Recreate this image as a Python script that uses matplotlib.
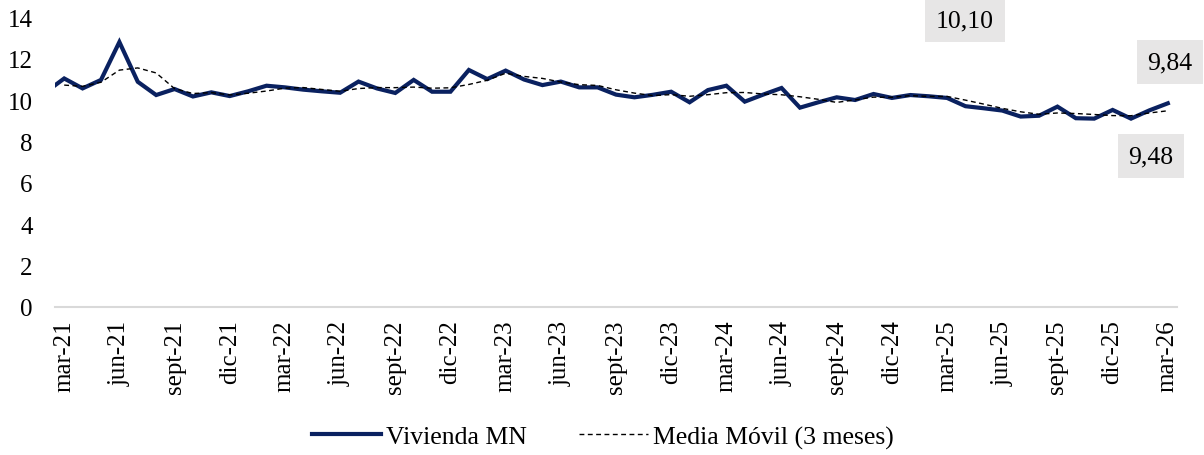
import matplotlib
matplotlib.use("Agg")
import matplotlib.pyplot as plt
import numpy as np
import pandas as pd

# Monthly values (jan-21 .. mar-26); first two months only feed the moving average
months = ["ene-21", "feb-21",
          "mar-21", "abr-21", "may-21", "jun-21", "jul-21", "ago-21", "sept-21", "oct-21", "nov-21", "dic-21",
          "ene-22", "feb-22", "mar-22", "abr-22", "may-22", "jun-22", "jul-22", "ago-22", "sept-22", "oct-22", "nov-22", "dic-22",
          "ene-23", "feb-23", "mar-23", "abr-23", "may-23", "jun-23", "jul-23", "ago-23", "sept-23", "oct-23", "nov-23", "dic-23",
          "ene-24", "feb-24", "mar-24", "abr-24", "may-24", "jun-24", "jul-24", "ago-24", "sept-24", "oct-24", "nov-24", "dic-24",
          "ene-25", "feb-25", "mar-25", "abr-25", "may-25", "jun-25", "jul-25", "ago-25", "sept-25", "oct-25", "nov-25", "dic-25",
          "ene-26", "feb-26", "mar-26"]
vivienda = [10.74, 10.38,
            11.04, 10.56, 10.97, 12.80, 10.88, 10.24, 10.53, 10.17, 10.37, 10.19,
            10.42, 10.69, 10.61, 10.50, 10.42, 10.35, 10.89, 10.56, 10.34, 10.97, 10.40, 10.40,
            11.45, 11.01, 11.42, 10.99, 10.72, 10.89, 10.61, 10.61, 10.26, 10.13, 10.25, 10.40,
            9.89, 10.48, 10.69, 9.92, 10.26, 10.58, 9.63, 9.89, 10.13, 10.00, 10.29, 10.10,
            10.24, 10.18, 10.10, 9.70, 9.60, 9.49, 9.20, 9.24, 9.68, 9.12, 9.10, 9.52,
            9.10, 9.50, 9.84]
tick_labels = ["mar-21", "jun-21", "sept-21", "dic-21", "mar-22", "jun-22", "sept-22", "dic-22",
               "mar-23", "jun-23", "sept-23", "dic-23", "mar-24", "jun-24", "sept-24", "dic-24",
               "mar-25", "jun-25", "sept-25", "dic-25", "mar-26"]
annotations = ["10,10", "9,84", "9,48"]

plt.rcParams['font.family'] = ['Liberation Serif', 'DejaVu Serif']

s = pd.Series(vivienda, index=months)
ma = s.rolling(3).mean()
x = np.arange(len(months)) - 2  # mar-21 at position 0

fig = plt.figure(figsize=(12.04, 4.56), dpi=100)
ax = fig.add_axes([55/1204, 148/456, 1122/1204, (308-18.2)/456])

navy = "#0a2160"
ax.plot(x, s.values, color=navy, lw=3.0, solid_joinstyle='miter', label="Vivienda MN")
ax.plot(x, ma.values, color="black", lw=1.0, ls=(0, (3.5, 2.5)), label="Media Móvil (3 meses)")

ax.set_xlim(-0.5, 60.5)
ax.set_ylim(0, 14)
ax.set_yticks(np.arange(0, 15, 2))
ax.set_xticks(np.arange(0, 61, 3))
ax.set_xticklabels(tick_labels, rotation=90, fontsize=18)
ax.tick_params(axis='y', length=0, pad=16, labelsize=18)
ax.tick_params(axis='x', length=0, pad=9)
for sp in ["top", "right", "left"]:
    ax.spines[sp].set_visible(False)
ax.spines["bottom"].set_color("#d9d9d9")
ax.spines["bottom"].set_linewidth(1.5)

box = dict(boxstyle="square,pad=0.42", facecolor="#e7e6e6", edgecolor="none")
fig.text(965/1204, 1-21/456, annotations[0], ha="center", va="center", fontsize=18.5, bbox=box)
fig.text(1170/1204, 1-63/456, annotations[1], ha="center", va="center", fontsize=18.5, bbox=box)
fig.text(1151/1204, 1-157/456, annotations[2], ha="center", va="center", fontsize=18.5, bbox=box)

fig.legend(loc="center", bbox_to_anchor=(603/1204, 1-438/456), ncol=2, frameon=False,
           fontsize=18.5, handlelength=2.7, columnspacing=2.0, handletextpad=0.2)

fig.savefig("out.png", dpi=100)
